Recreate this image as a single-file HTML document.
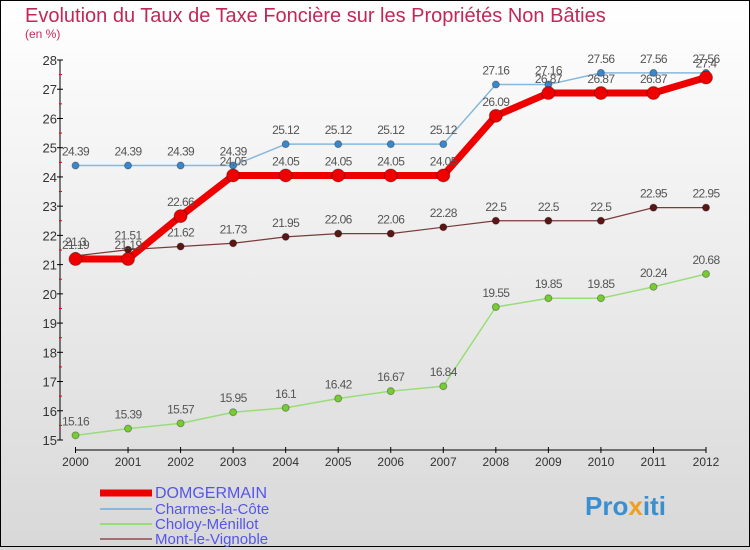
<!DOCTYPE html>
<html><head><meta charset="utf-8"><style>
body{margin:0}
#c{width:750px;height:550px;position:relative;overflow:hidden;background:linear-gradient(#fff,#d8d8d8);font-family:"Liberation Sans",sans-serif}
</style></head><body>
<div id="c">
<svg id="s" width="750" height="550" xmlns="http://www.w3.org/2000/svg">
<rect x="0.5" y="0.5" width="749" height="546" fill="none" stroke="#000"/>
<text x="25" y="22" font-size="20" fill="#c02858">Evolution du Taux de Taxe Foncière sur les Propriétés Non Bâties</text>
<text x="25" y="38" font-size="12" fill="#c8285a">(en %)</text>
<g id="axes"></g><g id="series"></g><g id="legend"></g>
<text x="585" y="515" font-size="26" font-weight="bold" fill="#3a8fd0">Pro<tspan fill="#f0a020">x</tspan>iti</text>
</svg></div>
<script>
const years=[2000,2001,2002,2003,2004,2005,2006,2007,2008,2009,2010,2011,2012];
const yTicks=[15,16,17,18,19,20,21,22,23,24,25,26,27,28];
const domgermain=[21.19,21.19,22.66,24.05,24.05,24.05,24.05,24.05,26.09,26.87,26.87,26.87,27.4];
const charmes=[24.39,24.39,24.39,24.39,25.12,25.12,25.12,25.12,27.16,27.16,27.56,27.56,27.56];
const choloy=[15.16,15.39,15.57,15.95,16.1,16.42,16.67,16.84,19.55,19.85,19.85,20.24,20.68];
const mont=[21.3,21.51,21.62,21.73,21.95,22.06,22.06,22.28,22.5,22.5,22.5,22.95,22.95];
const NS="http://www.w3.org/2000/svg";
const X=i=>75.5+i*(706-75.5)/12;
const Y=v=>440-(v-15)*(380/13);
function mk(p,t,a){const e=document.createElementNS(NS,t);for(const k in a)e.setAttribute(k,a[k]);p.appendChild(e);return e;}
const ax=document.getElementById('axes');
let e=mk(ax,'line',{x1:60,y1:60,x2:60,y2:440,stroke:'#000'});


yTicks.forEach(v=>{mk(ax,'line',{x1:57,x2:63,y1:Y(v),y2:Y(v),stroke:'#000'});
 if(v<28)mk(ax,'line',{x1:59,x2:62,y1:Y(v+0.5),y2:Y(v+0.5),stroke:'#e00'});
 const t=mk(ax,'text',{x:57,y:Y(v)+5,'text-anchor':'end','font-size':13,fill:'#333'});t.textContent=v;
 
 });
e=mk(ax,'line',{x1:75.5,y1:450,x2:706,y2:450,stroke:'#000'});


years.forEach((y,i)=>{mk(ax,'line',{x1:X(i),x2:X(i),y1:447,y2:453,stroke:'#000'});
 const t=mk(ax,'text',{x:X(i),y:466,'text-anchor':'middle','font-size':12,fill:'#333'});t.textContent=y;
 
 });
const sg=document.getElementById('series');
function series(name,vals,col,w,r,dot){
 const g=mk(sg,'g',{});
 
 
 mk(g,'polyline',{points:vals.map((v,i)=>X(i)+','+Y(v)).join(' '),fill:'none',stroke:col,'stroke-width':w,'stroke-linejoin':'round'});
 vals.forEach((v,i)=>{const c=mk(g,'circle',{cx:X(i),cy:Y(v),r:r,fill:dot,stroke:'rgba(0,0,0,0.3)'});
  
  
  const t=mk(g,'text',{x:X(i),y:Y(v)-10,'text-anchor':'middle','font-size':12,fill:'#555','letter-spacing':'-0.6'});t.textContent=v;
  
  });
}
series('choloy',choloy,'#99dd77',1.5,3.5,'#77cc33');
series('mont',mont,'#7a3a3a',1.2,3.5,'#5a1515');
series('charmes',charmes,'#88b8dd',1.5,3.5,'#3a88cc');
series('domgermain',domgermain,'#ee0000',7,6.5,'#ee0000');
const lg=document.getElementById('legend');
[['DOMGERMAIN','#ee0000',7,16,492],['Charmes-la-Côte','#88b8dd',2,15,508],['Choloy-Ménillot','#99dd77',2,15,523],['Mont-le-Vignoble','#a07070',2,15,538]].forEach(a=>{
 const g=mk(lg,'g',{});
 
 
 mk(g,'line',{x1:100,x2:152,y1:a[4]+1,y2:a[4]+1,stroke:a[1],'stroke-width':a[2]});
 const t=mk(g,'text',{x:155,y:a[4]+6,'font-size':a[3],fill:'#5555ee'});t.textContent=a[0];
});
</script></body></html>
